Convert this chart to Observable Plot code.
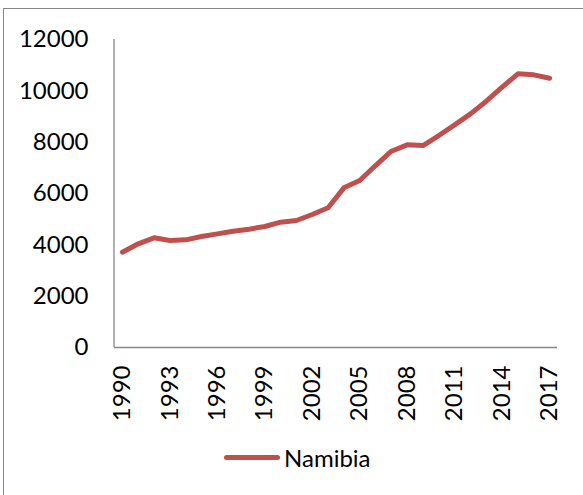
<!DOCTYPE html>
<html><head><meta charset="utf-8">
<script src="https://cdn.jsdelivr.net/npm/d3@7"></script>
<script src="https://cdn.jsdelivr.net/npm/@observablehq/plot@0.6"></script>
<style>
html,body{margin:0;padding:0;background:#fff;overflow:hidden;width:583px;height:495px;}
#wrap{position:relative;width:583px;height:495px;}
#border{position:absolute;left:3px;top:8px;width:620px;height:540px;border:1.5px solid #888;box-sizing:border-box;}
#chart{position:absolute;left:0;top:0;}
#legend{position:absolute;left:224px;top:443px;display:flex;align-items:center;font-family:Lato,"Open Sans",sans-serif;font-size:24px;color:#000;}
#legend .sw{width:56px;height:5px;border-radius:3px;background:#C0504D;margin-right:4px;}
</style></head>
<body><div id="wrap"><div id="border"></div><div id="chart"></div>
<div id="legend"><div class="sw"></div><span>Namibia</span></div></div>
<script>
const years = [1990,1991,1992,1993,1994,1995,1996,1997,1998,1999,2000,2001,2002,2003,2004,2005,2006,2007,2008,2009,2010,2011,2012,2013,2014,2015,2016,2017];
const namibia = [3713,4040,4273,4168,4195,4324,4428,4532,4610,4714,4883,4948,5181,5442,6221,6506,7090,7648,7895,7869,8259,8676,9104,9595,10140,10662,10623,10490];
const xTicks = [1990,1993,1996,1999,2002,2005,2008,2011,2014,2017];
const yTicks = [0,2000,4000,6000,8000,10000,12000];
const seriesName = "Namibia";
const data = years.map((y,i)=>({year:y, value:namibia[i], series:seriesName}));

const leftLine = (index, scales, values, dim) => {
  const g = document.createElementNS("http://www.w3.org/2000/svg","line");
  g.setAttribute("x1", dim.marginLeft); g.setAttribute("x2", dim.marginLeft);
  g.setAttribute("y1", scales.y(12000)); g.setAttribute("y2", scales.y(0));
  g.setAttribute("stroke","#868686"); g.setAttribute("stroke-width","1.3");
  return g;
};

const plot = Plot.plot({
  width: 583,
  height: 430,
  marginTop: 39,
  marginBottom: 83,
  marginLeft: 114,
  marginRight: 26,
  style: {fontFamily: 'Lato, "Open Sans", sans-serif', fontSize: "24px", color: "#000", background: "transparent", overflow: "visible"},
  x: {type: "point", domain: years, padding: 0.5, round: false},
  y: {domain: [0, 12000]},
  marks: [
    Plot.axisY({ticks: yTicks, tickSize: 0, tickPadding: 26, tickFormat: d => String(d), label: null}),
    Plot.axisX({ticks: xTicks, tickSize: 0, tickPadding: 18, tickRotate: -90, tickFormat: d => String(d), label: null}),
    Plot.ruleY([0], {stroke: "#868686", strokeWidth: 1.3}),
    leftLine,
    Plot.line(data, {x: "year", y: "value", stroke: "#C0504D", strokeWidth: 5, strokeLinejoin: "round", strokeLinecap: "round"})
  ]
});
document.getElementById("chart").appendChild(plot);
</script></body></html>
